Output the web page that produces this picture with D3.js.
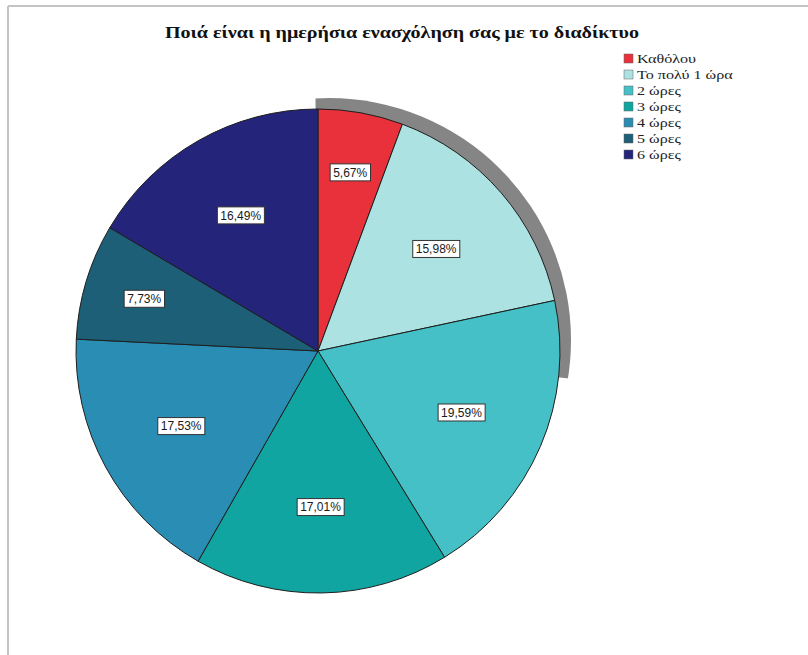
<!DOCTYPE html>
<html>
<head>
<meta charset="utf-8">
<script src="https://cdn.jsdelivr.net/npm/d3@7"></script>
<style>
  html, body { margin: 0; padding: 0; background: #fff; }
  svg { display: block; }
</style>
</head>
<body>
<svg id="chart" width="808" height="655"></svg>
<script>
// Daily internet use — share of respondents per category
const categories = ["Καθόλου", "Το πολύ 1 ώρα", "2 ώρες", "3 ώρες", "4 ώρες", "5 ώρες", "6 ώρες"];
const percentages = [5.67, 15.98, 19.59, 17.01, 17.53, 7.73, 16.49];
const sliceColors = ["#e8313b", "#ade2e2", "#44c0c6", "#10a5a0", "#2a8db3", "#1c5f77", "#23247a"];
const title = "Ποιά είναι η ημερήσια ενασχόληση σας με το διαδίκτυο";

const svg = d3.select("#chart");
const W = 808, H = 655;

// panel frame (top and left edges)
svg.append("line").attr("x1", 8).attr("y1", 6).attr("x2", W).attr("y2", 6)
  .attr("stroke", "#c4c4c4").attr("stroke-width", 2);
svg.append("line").attr("x1", 8).attr("y1", 6).attr("x2", 8).attr("y2", H)
  .attr("stroke", "#c4c4c4").attr("stroke-width", 2);

// title
svg.append("text")
  .attr("x", 402).attr("y", 38)
  .attr("text-anchor", "middle")
  .attr("font-family", "'Liberation Serif', 'DejaVu Serif', serif")
  .attr("font-weight", "bold")
  .attr("font-size", 17)
  .attr("fill", "#111")
  .attr("textLength", 474)
  .attr("lengthAdjust", "spacingAndGlyphs")
  .text(title);

// pie geometry
const cx = 318, cy = 351, R = 242;
const data = categories.map((c, i) => ({ cat: c, value: percentages[i], color: sliceColors[i] }));
const pie = d3.pie().sort(null).value(d => d.value);
const arcs = pie(data);
const arc = d3.arc().innerRadius(0).outerRadius(R);

// depth shadow behind the upper-right rim
const shadowOffset = { x: 11, y: -11 };
const clipId = "shadowClip";
svg.append("clipPath").attr("id", clipId)
  .append("path")
  .attr("transform", `translate(${cx},${cy})`)
  .attr("d", d3.arc().innerRadius(0).outerRadius(R + 40)
    .startAngle(-0.01).endAngle(1.68)());
svg.append("circle")
  .attr("cx", cx + shadowOffset.x).attr("cy", cy + shadowOffset.y).attr("r", R)
  .attr("fill", "#858585")
  .attr("clip-path", `url(#${clipId})`);

const g = svg.append("g").attr("transform", `translate(${cx},${cy})`);

g.selectAll("path.slice")
  .data(arcs)
  .join("path")
  .attr("class", "slice")
  .attr("d", arc)
  .attr("fill", d => d.data.color)
  .attr("stroke", "#1e1e1e")
  .attr("stroke-width", 1);

// value labels in white boxes
const fmt = v => v.toFixed(2).replace(".", ",") + "%";
const labels = g.selectAll("g.lbl")
  .data(arcs)
  .join("g")
  .attr("class", "lbl")
  .attr("transform", d => {
    const r = d.data.value < 10 ? R * 0.75 : R * 0.645;
    const a = (d.startAngle + d.endAngle) / 2;
    return `translate(${r * Math.sin(a)},${-r * Math.cos(a)})`;
  });

labels.each(function(d) {
  const sel = d3.select(this);
  const t = sel.append("text")
    .attr("text-anchor", "middle")
    .attr("dy", "0.36em")
    .attr("font-family", "'Liberation Sans', Arial, sans-serif")
    .attr("font-size", 12)
    .attr("fill", "#1a1a1a")
    .text(fmt(d.data.value));
  const bb = t.node().getBBox();
  sel.insert("rect", "text")
    .attr("x", bb.x - 3).attr("y", -8.5)
    .attr("width", bb.width + 6).attr("height", 17)
    .attr("fill", "#fff")
    .attr("stroke", "#333")
    .attr("stroke-width", 1);
});

// legend
const legend = svg.append("g").attr("transform", "translate(624,54)");
const step = 16;
const items = legend.selectAll("g.item")
  .data(data)
  .join("g")
  .attr("class", "item")
  .attr("transform", (d, i) => `translate(0,${i * step})`);
items.append("rect")
  .attr("width", 9).attr("height", 9)
  .attr("fill", d => d.color)
  .attr("stroke", "#666").attr("stroke-width", 0.5);
items.append("text")
  .attr("transform", "translate(13,8.5) scale(1.4,1)")
  .attr("font-family", "'Liberation Serif', 'DejaVu Serif', serif")
  .attr("font-size", 11.5)
  .attr("fill", "#222")
  .text(d => d.cat);
</script>
</body>
</html>
